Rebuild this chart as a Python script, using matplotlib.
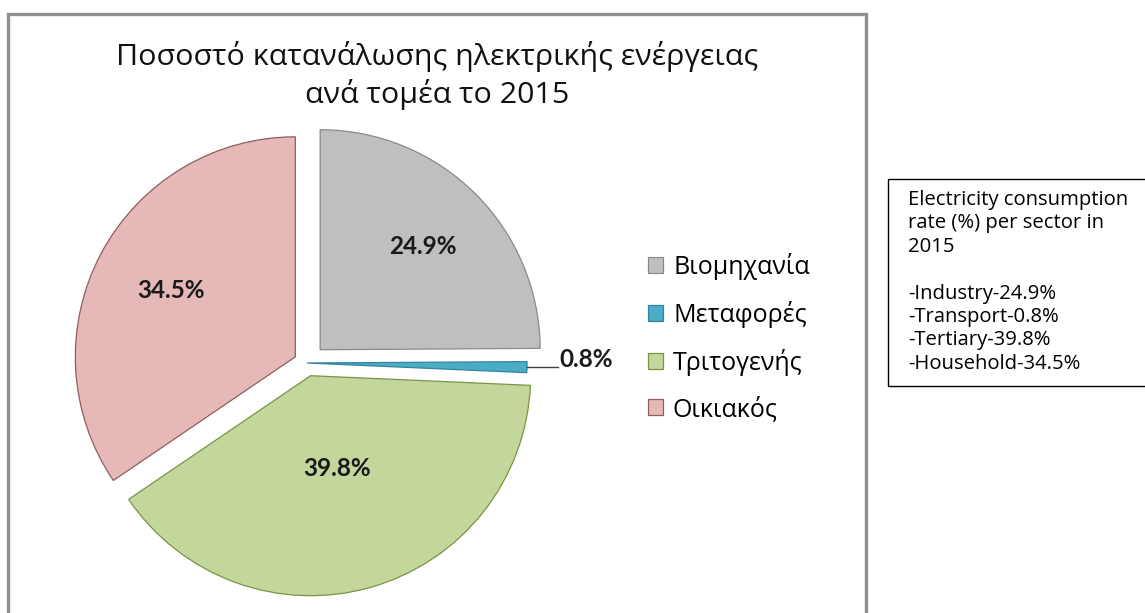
import matplotlib
matplotlib.use('Agg')
import matplotlib.pyplot as plt
import numpy as np
from matplotlib.patches import Rectangle
from matplotlib.lines import Line2D

plt.rcParams['font.family'] = ['Open Sans', 'DejaVu Sans']

# electricity consumption share per sector, 2015
sectors_el = ['Βιομηχανία', 'Μεταφορές', 'Τριτογενής', 'Οικιακός']
sectors_en = ['Industry', 'Transport', 'Tertiary', 'Household']
shares = [24.9, 0.8, 39.8, 34.5]

title_lines = ['Ποσοστό κατανάλωσης ηλεκτρικής ενέργειας', 'ανά τομέα το 2015']
note_head = ['Electricity consumption', 'rate (%) per sector in', '2015']

explode = [0.085, 0.0, 0.06, 0.06]
fills = ['#bfbfbf', '#4bacc6', '#c3d69b', '#e6b9b8']
edges = ['#8a8a8a', '#31849b', '#7a9444', '#8c5f5e']
label_dist = [0.66, None, 0.44, 0.64]
label_font = dict(family=['Lato', 'DejaVu Sans'], fontsize=17.5,
                  fontweight='bold', color='#1a1a1a')

W, H = 1145, 613
fig = plt.figure(figsize=(W / 100, H / 100), dpi=100)


def fx(x):
    return x / W


def fy(y):
    # pixel rows counted from the top
    return 1 - y / H


# chart area border (runs off the bottom edge)
fig.patches.append(Rectangle((fx(8), -0.1), fx(866 - 8), fy(14) + 0.1,
                             transform=fig.transFigure, fill=False,
                             ec='#8f8f8f', lw=2.4, zorder=0))

# pie axes: centre at (307, 363) px, radius 220 px
R_PX = 220
HALF = 260
ax = fig.add_axes([fx(307 - HALF), fy(363 + HALF), fx(2 * HALF), (2 * HALF) / H])
wedges, _ = ax.pie(shares, explode=explode, colors=fills, startangle=90,
                   counterclock=False, radius=1,
                   wedgeprops=dict(linewidth=0.9))
for w, ec in zip(wedges, edges):
    w.set_edgecolor(ec)
lim = HALF / R_PX
ax.set_xlim(-lim, lim)
ax.set_ylim(-lim, lim)
ax.set_aspect('equal')
ax.axis('off')

for w, v, d in zip(wedges, shares, label_dist):
    mid = np.deg2rad((w.theta1 + w.theta2) / 2)
    cx, cy = w.center
    txt = f'{v:.1f}%'
    if d is None:
        # thin slice: label outside with a leader line
        tx, ty = cx + np.cos(mid), cy + np.sin(mid)
        ax.add_line(Line2D([tx, 1.14], [ty, ty], color='#404040', lw=1.0))
        ax.text(1.145, ty, txt, ha='left', va='baseline', **label_font)
    else:
        ax.text(cx + d * np.cos(mid), cy + d * np.sin(mid), txt,
                ha='center', va='center', **label_font)

# title
for i, line in enumerate(title_lines):
    fig.text(fx(437), fy(65 + i * 38), line, ha='center', va='baseline',
             fontsize=21.9, color='#111111')

fig.legend(wedges, sectors_el, loc='center left',
           bbox_to_anchor=(fx(648), fy(337.5)), bbox_transform=fig.transFigure,
           frameon=False, fontsize=18, handlelength=0.6, handleheight=0.6,
           handletextpad=0.4, labelspacing=0.83, borderpad=0, borderaxespad=0)

# English note box on the right
fig.patches.append(Rectangle((fx(888), fy(386)), fx(1160 - 888), (386 - 179) / H,
                             transform=fig.transFigure, fill=False,
                             ec='#000000', lw=1.0))
note = note_head + [''] + [f'-{n}-{v}%' for n, v in zip(sectors_en, shares)]
for i, line in enumerate(note):
    fig.text(fx(908), fy(205 + i * 23.4), line, ha='left', va='baseline',
             fontsize=14.6, color='#000000')

fig.savefig('out.png', dpi=100, facecolor='white')
